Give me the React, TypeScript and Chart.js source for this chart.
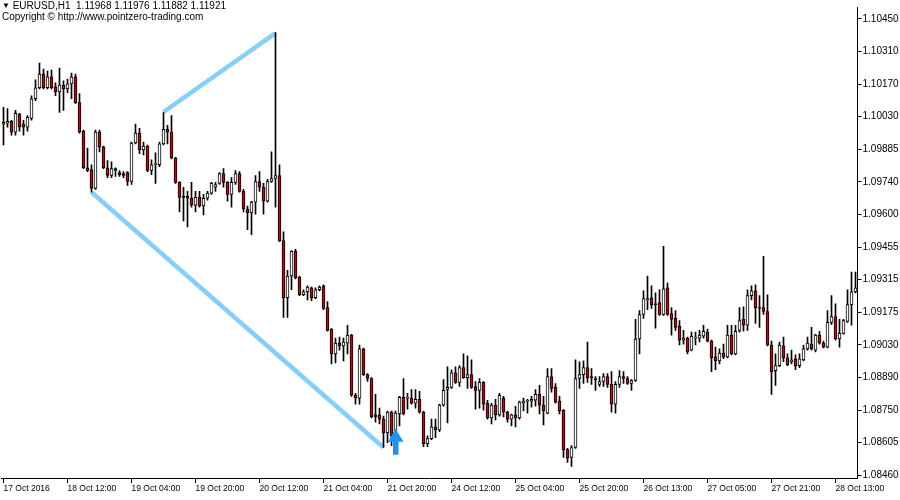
import React, { useEffect, useRef } from "react";
import { Chart, registerables } from "chart.js";

Chart.register(...registerables);

// ---- Data (EURUSD H1 candles, left to right) ----
const opens = [
  1.09991, 1.09995, 1.10003, 1.09956, 1.10034, 1.09991, 1.09978, 1.10016, 1.10102, 1.10150,
  1.10210, 1.10150, 1.10197, 1.10154, 1.10132, 1.10162, 1.10145, 1.10167, 1.10197, 1.10085,
  1.09960, 1.09801, 1.09793, 1.09711, 1.09956, 1.09892, 1.09801, 1.09767, 1.09797, 1.09780,
  1.09776, 1.09780, 1.09741, 1.09909, 1.09952, 1.09879, 1.09896, 1.09789, 1.09814, 1.09814,
  1.09905, 1.09969, 1.09956, 1.09844, 1.09737, 1.09677, 1.09677, 1.09668, 1.09638, 1.09672,
  1.09634, 1.09668, 1.09690, 1.09716, 1.09733, 1.09776, 1.09737, 1.09685, 1.09737, 1.09776,
  1.09698, 1.09621, 1.09604, 1.09651, 1.09741, 1.09716, 1.09655, 1.09741, 1.09754, 1.09767,
  1.09483, 1.09234, 1.09329, 1.09436, 1.09324, 1.09247, 1.09260, 1.09277, 1.09234, 1.09269,
  1.09286, 1.09191, 1.09097, 1.08989, 1.09036, 1.09024, 1.09036, 1.09071, 1.08809, 1.08796,
  1.09011, 1.08899, 1.08882, 1.08723, 1.08723, 1.08705, 1.08645, 1.08735, 1.08637, 1.08727,
  1.08800, 1.08796, 1.08796, 1.08774, 1.08791, 1.08735, 1.08598, 1.08620, 1.08671, 1.08658,
  1.08766, 1.08834, 1.08843, 1.08907, 1.08865, 1.08929, 1.08886, 1.08899, 1.08847, 1.08830,
  1.08865, 1.08774, 1.08710, 1.08766, 1.08723, 1.08796, 1.08735, 1.08705, 1.08723, 1.08710,
  1.08774, 1.08783, 1.08783, 1.08787, 1.08813, 1.08766, 1.08731, 1.08890, 1.08843, 1.08783,
  1.08744, 1.08572, 1.08538, 1.08581, 1.08882, 1.08899, 1.08929, 1.08890, 1.08882, 1.08856,
  1.08869, 1.08890, 1.08856, 1.08770, 1.08856, 1.08890, 1.08882, 1.08860, 1.08873, 1.09054,
  1.09161, 1.09225, 1.09234, 1.09208, 1.09213, 1.09161, 1.09277, 1.09165, 1.09144, 1.09109,
  1.09049, 1.09058, 1.09006, 1.09058, 1.09058, 1.09066, 1.09084, 1.09045, 1.08976, 1.08959,
  1.08993, 1.08976, 1.09071, 1.08989, 1.09092, 1.09140, 1.09114, 1.09243, 1.09264, 1.09191,
  1.09191, 1.09174, 1.09028, 1.08916, 1.08938, 1.09024, 1.08972, 1.08955, 1.08968, 1.08938,
  1.08963, 1.09011, 1.09032, 1.09006, 1.09071, 1.09036, 1.09019, 1.09127, 1.09152, 1.09054,
  1.09079, 1.09131, 1.09204, 1.09260,
];
const highs = [
  1.10064, 1.10059, 1.10008, 1.10051, 1.10038, 1.10008, 1.10029, 1.10115, 1.10184, 1.10257,
  1.10231, 1.10223, 1.10227, 1.10171, 1.10236, 1.10180, 1.10188, 1.10214, 1.10210, 1.10124,
  1.09965, 1.09887, 1.09814, 1.09965, 1.09965, 1.09896, 1.09832, 1.09827, 1.09801, 1.09789,
  1.09784, 1.09784, 1.09913, 1.09991, 1.09973, 1.09913, 1.09900, 1.09836, 1.09866, 1.09913,
  1.10042, 1.09986, 1.10029, 1.09846, 1.09741, 1.09716, 1.09698, 1.09737, 1.09698, 1.09698,
  1.09685, 1.09698, 1.09737, 1.09737, 1.09780, 1.09797, 1.09741, 1.09758, 1.09789, 1.09784,
  1.09707, 1.09634, 1.09655, 1.09767, 1.09784, 1.09733, 1.09750, 1.09870, 1.10390, 1.09814,
  1.09522, 1.09354, 1.09440, 1.09445, 1.09329, 1.09269, 1.09286, 1.09281, 1.09277, 1.09286,
  1.09290, 1.09217, 1.09100, 1.09058, 1.09062, 1.09058, 1.09114, 1.09075, 1.08817, 1.09028,
  1.09015, 1.08903, 1.08886, 1.08813, 1.08753, 1.08718, 1.08740, 1.08740, 1.08740, 1.08804,
  1.08882, 1.08817, 1.08834, 1.08834, 1.08826, 1.08740, 1.08632, 1.08705, 1.08705, 1.08770,
  1.08877, 1.08933, 1.08920, 1.08933, 1.08938, 1.08989, 1.08981, 1.08963, 1.08869, 1.08882,
  1.08869, 1.08787, 1.08774, 1.08791, 1.08817, 1.08804, 1.08740, 1.08727, 1.08761, 1.08783,
  1.08796, 1.08791, 1.08804, 1.08834, 1.08852, 1.08804, 1.08925, 1.08925, 1.08860, 1.08804,
  1.08746, 1.08577, 1.08589, 1.08963, 1.08955, 1.08959, 1.09041, 1.08925, 1.08890, 1.08890,
  1.08903, 1.08903, 1.08912, 1.08869, 1.08916, 1.08912, 1.08890, 1.08877, 1.09140, 1.09178,
  1.09264, 1.09329, 1.09286, 1.09256, 1.09269, 1.09458, 1.09299, 1.09191, 1.09178, 1.09135,
  1.09092, 1.09062, 1.09084, 1.09084, 1.09092, 1.09114, 1.09097, 1.09049, 1.09019, 1.09011,
  1.09032, 1.09114, 1.09114, 1.09114, 1.09191, 1.09195, 1.09269, 1.09286, 1.09290, 1.09243,
  1.09415, 1.09247, 1.09045, 1.08989, 1.09041, 1.09062, 1.08989, 1.09006, 1.08985, 1.08989,
  1.09028, 1.09062, 1.09105, 1.09075, 1.09088, 1.09045, 1.09178, 1.09243, 1.09208, 1.09140,
  1.09140, 1.09269, 1.09346, 1.09346,
];
const lows = [
  1.09900, 1.09978, 1.09943, 1.09943, 1.09960, 1.09943, 1.09960, 1.10008, 1.10094, 1.10145,
  1.10145, 1.10145, 1.10145, 1.10115, 1.10042, 1.10051, 1.10128, 1.10102, 1.10081, 1.09952,
  1.09797, 1.09784, 1.09694, 1.09707, 1.09870, 1.09797, 1.09758, 1.09758, 1.09763, 1.09763,
  1.09758, 1.09724, 1.09728, 1.09905, 1.09862, 1.09857, 1.09784, 1.09771, 1.09733, 1.09806,
  1.09900, 1.09905, 1.09840, 1.09733, 1.09608, 1.09569, 1.09543, 1.09629, 1.09608, 1.09629,
  1.09595, 1.09660, 1.09685, 1.09698, 1.09728, 1.09716, 1.09655, 1.09629, 1.09728, 1.09694,
  1.09608, 1.09531, 1.09509, 1.09599, 1.09698, 1.09599, 1.09651, 1.09737, 1.09629, 1.09479,
  1.09148, 1.09148, 1.09269, 1.09316, 1.09243, 1.09243, 1.09225, 1.09221, 1.09230, 1.09264,
  1.09182, 1.09088, 1.08946, 1.08950, 1.09006, 1.08959, 1.08989, 1.08804, 1.08770, 1.08770,
  1.08895, 1.08869, 1.08710, 1.08692, 1.08684, 1.08581, 1.08602, 1.08589, 1.08632, 1.08675,
  1.08723, 1.08748, 1.08770, 1.08753, 1.08731, 1.08585, 1.08585, 1.08615, 1.08624, 1.08650,
  1.08761, 1.08688, 1.08839, 1.08860, 1.08847, 1.08882, 1.08839, 1.08839, 1.08748, 1.08753,
  1.08744, 1.08705, 1.08684, 1.08701, 1.08718, 1.08714, 1.08692, 1.08675, 1.08671, 1.08705,
  1.08740, 1.08731, 1.08757, 1.08761, 1.08727, 1.08680, 1.08727, 1.08822, 1.08774, 1.08727,
  1.08538, 1.08516, 1.08499, 1.08577, 1.08839, 1.08860, 1.08865, 1.08856, 1.08830, 1.08847,
  1.08847, 1.08843, 1.08735, 1.08731, 1.08843, 1.08860, 1.08856, 1.08830, 1.08869, 1.08989,
  1.09144, 1.09182, 1.09187, 1.09101, 1.09157, 1.09157, 1.09157, 1.09071, 1.09092, 1.09028,
  1.09032, 1.08989, 1.09002, 1.09028, 1.09041, 1.09058, 1.09041, 1.08912, 1.08920, 1.08946,
  1.08968, 1.08972, 1.08985, 1.08985, 1.09084, 1.09088, 1.09092, 1.09225, 1.09122, 1.09105,
  1.09161, 1.09024, 1.08813, 1.08852, 1.08933, 1.08955, 1.08938, 1.08946, 1.08920, 1.08929,
  1.08959, 1.09006, 1.09006, 1.08998, 1.09032, 1.09015, 1.09015, 1.09118, 1.09049, 1.09019,
  1.09075, 1.09127, 1.09114, 1.09255,
];
const closes = [
  1.09999, 1.10003, 1.09956, 1.10038, 1.09978, 1.09978, 1.10021, 1.10102, 1.10150, 1.10210,
  1.10150, 1.10197, 1.10150, 1.10132, 1.10162, 1.10145, 1.10167, 1.10197, 1.10085, 1.09956,
  1.09801, 1.09789, 1.09711, 1.09956, 1.09892, 1.09801, 1.09767, 1.09797, 1.09789, 1.09771,
  1.09767, 1.09741, 1.09909, 1.09952, 1.09879, 1.09896, 1.09789, 1.09814, 1.09819, 1.09905,
  1.09969, 1.09956, 1.09844, 1.09737, 1.09672, 1.09672, 1.09668, 1.09638, 1.09672, 1.09634,
  1.09668, 1.09690, 1.09733, 1.09728, 1.09776, 1.09737, 1.09685, 1.09737, 1.09776, 1.09698,
  1.09621, 1.09604, 1.09651, 1.09741, 1.09716, 1.09655, 1.09741, 1.09754, 1.09767, 1.09483,
  1.09234, 1.09329, 1.09436, 1.09320, 1.09247, 1.09260, 1.09281, 1.09234, 1.09269, 1.09281,
  1.09187, 1.09092, 1.08989, 1.09036, 1.09024, 1.09041, 1.09071, 1.08809, 1.08796, 1.09011,
  1.08899, 1.08882, 1.08714, 1.08714, 1.08705, 1.08645, 1.08735, 1.08632, 1.08731, 1.08800,
  1.08727, 1.08800, 1.08774, 1.08791, 1.08735, 1.08598, 1.08620, 1.08671, 1.08658, 1.08766,
  1.08830, 1.08843, 1.08907, 1.08865, 1.08929, 1.08886, 1.08899, 1.08843, 1.08830, 1.08865,
  1.08770, 1.08710, 1.08766, 1.08723, 1.08809, 1.08735, 1.08705, 1.08723, 1.08710, 1.08779,
  1.08783, 1.08787, 1.08791, 1.08813, 1.08766, 1.08740, 1.08890, 1.08839, 1.08779, 1.08740,
  1.08572, 1.08534, 1.08581, 1.08882, 1.08899, 1.08929, 1.08886, 1.08886, 1.08877, 1.08869,
  1.08890, 1.08856, 1.08770, 1.08856, 1.08890, 1.08882, 1.08860, 1.08873, 1.09054, 1.09161,
  1.09230, 1.09230, 1.09204, 1.09204, 1.09161, 1.09273, 1.09161, 1.09140, 1.09105, 1.09049,
  1.09058, 1.08998, 1.09066, 1.09062, 1.09071, 1.09088, 1.09045, 1.08972, 1.08959, 1.08993,
  1.08976, 1.09071, 1.08989, 1.09088, 1.09135, 1.09114, 1.09243, 1.09264, 1.09191, 1.09187,
  1.09174, 1.09028, 1.08912, 1.08938, 1.09028, 1.08972, 1.08942, 1.08963, 1.08938, 1.08968,
  1.09011, 1.09036, 1.09011, 1.09071, 1.09036, 1.09019, 1.09127, 1.09152, 1.09054, 1.09079,
  1.09135, 1.09204, 1.09260, 1.09277,
];

// time-axis labels (one every 16 bars)
const timeTickBars = [0, 16, 32, 48, 64, 80, 96, 112, 128, 144, 160, 176, 192, 208];
const timeTickLabels = [
  "17 Oct 2016", "18 Oct 12:00", "19 Oct 04:00", "19 Oct 20:00", "20 Oct 12:00",
  "21 Oct 04:00", "21 Oct 20:00", "24 Oct 12:00", "25 Oct 04:00", "25 Oct 20:00",
  "26 Oct 13:00", "27 Oct 05:00", "27 Oct 21:00", "28 Oct 13:00",
];

// price axis
const priceTickLabels = [
  "1.10450", "1.10310", "1.10170", "1.10030", "1.09885", "1.09740", "1.09600", "1.09455",
  "1.09315", "1.09175", "1.09030", "1.08890", "1.08750", "1.08605", "1.08460",
];
const priceTickTop = 1.1045;
const priceTickStep = 0.0014214;
const priceMin = 1.08448;
const priceMax = 1.10502;

// drawn objects
const trendLineA = [
  { bar: 22, price: 1.09694 },
  { bar: 95, price: 1.08581 },
];
const trendLineB = [
  { bar: 40, price: 1.10044 },
  { bar: 68, price: 1.10388 },
];
const arrowBar = 98;
const arrowPrice = 1.08663;

const headerLine1 = "EURUSD,H1  1.11968 1.11976 1.11882 1.11921";
const headerLine2 = "Copyright \u00A9 http://www.pointzero-trading.com";

const BEAR = "#d00000";
const BULL = "#ffffff";
const TREND = "#87CEFA";
const ARROW = "#1E90FF";

function lineData(points: { bar: number; price: number }[]) {
  const arr: (number | null)[] = opens.map(() => null);
  points.forEach((p) => {
    arr[p.bar] = p.price;
  });
  return arr;
}

const arrowPlugin = {
  id: "buyArrow",
  afterDatasetsDraw(chart: any) {
    const x = chart.scales.x.getPixelForValue(arrowBar);
    const y = chart.scales.y.getPixelForValue(arrowPrice);
    const ctx = chart.ctx;
    ctx.save();
    ctx.fillStyle = ARROW;
    ctx.beginPath();
    ctx.moveTo(x, y);
    ctx.lineTo(x + 8, y + 13);
    ctx.lineTo(x + 3, y + 13);
    ctx.lineTo(x + 3, y + 26);
    ctx.lineTo(x - 2.5, y + 26);
    ctx.lineTo(x - 2.5, y + 13);
    ctx.lineTo(x - 7.5, y + 13);
    ctx.closePath();
    ctx.fill();
    ctx.restore();
  },
};

export default function App() {
  const canvasRef = useRef<HTMLCanvasElement | null>(null);

  useEffect(() => {
    document.body.style.margin = "0";
    const canvas = canvasRef.current;
    if (!canvas) return;
    Chart.defaults.font.family = "'Liberation Sans', Arial, sans-serif";
    const labels = opens.map((_, i) => String(i));
    const chart = new Chart(canvas, {
      type: "bar",
      data: {
        labels,
        datasets: [
          {
            type: "bar",
            label: "bodies",
            data: opens.map((o, i) => [o, closes[i]]) as any,
            backgroundColor: opens.map((o, i) => (closes[i] < o ? BEAR : BULL)),
            borderColor: "#000000",
            borderWidth: 1,
            borderSkipped: false,
            barThickness: 3,
            grouped: false,
            order: 0,
          } as any,
          {
            type: "bar",
            label: "wicks",
            data: lows.map((l, i) => [l, highs[i]]) as any,
            backgroundColor: "#000000",
            borderWidth: 0,
            barThickness: 1,
            grouped: false,
            order: 1,
          } as any,
          {
            type: "line",
            label: "trendA",
            data: lineData(trendLineA),
            borderColor: TREND,
            borderWidth: 4.5,
            pointRadius: 0,
            spanGaps: true,
            order: 2,
          } as any,
          {
            type: "line",
            label: "trendB",
            data: lineData(trendLineB),
            borderColor: TREND,
            borderWidth: 4.5,
            pointRadius: 0,
            spanGaps: true,
            order: 3,
          } as any,
        ],
      },
      options: {
        animation: false,
        responsive: false,
        devicePixelRatio: 1,
        layout: { padding: { left: 1.5, right: 0, top: 0, bottom: 0 } },
        plugins: {
          legend: { display: false },
          tooltip: { enabled: false },
          title: { display: false },
        },
        scales: {
          x: {
            type: "category",
            offset: true,
            grid: {
              display: true,
              drawOnChartArea: false,
              drawTicks: true,
              tickLength: 5,
              color: "#000000",
              offset: false,
            },
            border: { display: true, color: "#000000" },
            ticks: {
              autoSkip: false,
              maxRotation: 0,
              minRotation: 0,
              align: "start",
              padding: 1,
              color: "#000000",
              font: { size: 8.5, family: "'Liberation Sans', Arial, sans-serif" },
              callback: (value: any) => {
                const k = timeTickBars.indexOf(Number(value));
                return k >= 0 ? timeTickLabels[k] : "";
              },
            },
            afterBuildTicks: (scale: any) => {
              scale.ticks = timeTickBars.map((b) => ({ value: b }));
            },
            afterFit: (scale: any) => {
              scale.height = 22;
            },
          },
          y: {
            type: "linear",
            position: "right",
            min: priceMin,
            max: priceMax,
            grid: {
              display: true,
              drawOnChartArea: false,
              drawTicks: true,
              tickLength: 4,
              color: "#000000",
            },
            border: { display: true, color: "#000000" },
            ticks: {
              padding: 1,
              color: "#000000",
              font: { size: 10, family: "'Liberation Sans', Arial, sans-serif" },
              callback: (_v: any, i: number) => priceTickLabels[i],
            },
            afterBuildTicks: (scale: any) => {
              scale.ticks = priceTickLabels.map((_, i) => ({
                value: priceTickTop - i * priceTickStep,
              }));
            },
            afterFit: (scale: any) => {
              scale.width = 42.5;
            },
          },
        },
      },
      plugins: [arrowPlugin],
    });
    return () => chart.destroy();
  }, []);

  const textStyle: React.CSSProperties = {
    position: "absolute",
    left: 2,
    fontFamily: "'Liberation Sans', Arial, sans-serif",
    fontSize: 10,
    lineHeight: "11px",
    color: "#000",
    whiteSpace: "pre",
  };

  return (
    <div style={{ position: "relative", width: 900, height: 500, background: "#fff" }}>
      <canvas ref={canvasRef} width={900} height={500} style={{ display: "block", width: 900, height: 500 }} />
      <div style={{ ...textStyle, top: 0 }}>
        <span style={{ fontSize: 8, verticalAlign: "1px" }}>{"\u25BC"}</span>
        {" " + headerLine1}
      </div>
      <div style={{ ...textStyle, top: 11 }}>{headerLine2}</div>
    </div>
  );
}
